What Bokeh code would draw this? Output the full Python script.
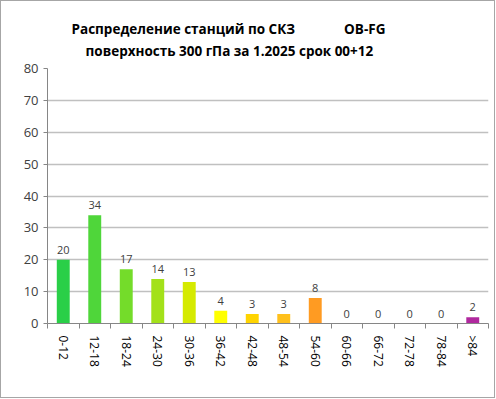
from bokeh.plotting import figure
from bokeh.models import ColumnDataSource, FixedTicker, Title, Range1d
from bokeh.core.properties import value
from bokeh.embed import file_html
from bokeh.resources import INLINE

categories = ["0-12", "12-18", "18-24", "24-30", "30-36", "36-42", "42-48",
              "48-54", "54-60", "60-66", "66-72", "72-78", "78-84", ">84"]
counts = [20, 34, 17, 14, 13, 4, 3, 3, 8, 0, 0, 0, 0, 2]
colors = ["#2acf48", "#4fd63a", "#74dc2a", "#a3e11a", "#d5ea00", "#ffff00", "#ffd400",
          "#ffc01c", "#ff9b22", "#ff7f20", "#ff5a20", "#e0302a", "#c02a80", "#b0289e"]
y_ticks = [0, 10, 20, 30, 40, 50, 60, 70, 80]

FONT = "Open Sans"
n = len(categories)
centers = [i + 0.5 for i in range(n)]
bounds = [float(i) for i in range(n + 1)]

src = ColumnDataSource(dict(x=centers, top=counts, color=colors,
                            label=[str(c) for c in counts]))

p = figure(width=495, height=398, output_backend="svg", toolbar_location=None,
           x_range=Range1d(0, n), y_range=Range1d(0, 80),
           min_border_left=46, min_border_right=8, min_border_top=67, min_border_bottom=76)
p.styles = {"border": "1px solid #a6a6a6"}
p.outline_line_color = None
p.background_fill_color = "white"
p.border_fill_color = "white"

p.vbar(x="x", top="top", width=0.41, bottom=0, color="color", source=src, line_color=None)
p.text(x="x", y="top", text="label", source=src, text_align="center",
       text_baseline="bottom", y_offset=-6, text_font_size="11px",
       text_color="#404040", text_font=value(FONT))

# axes
p.xaxis.ticker = FixedTicker(ticks=centers, minor_ticks=bounds)
p.xaxis.major_label_overrides = {c: lab for c, lab in zip(centers, categories)}
p.xaxis.major_label_orientation = "vertical"
p.xaxis.major_tick_line_color = None
p.xaxis.minor_tick_line_color = "#868686"
p.xaxis.minor_tick_out = 5
p.xaxis.minor_tick_in = 0
p.xaxis.axis_line_color = "#868686"
p.xaxis.major_label_text_font = FONT
p.xaxis.major_label_text_font_size = "12px"
p.xaxis.major_label_text_color = "#000000"
p.xaxis.major_label_standoff = 6

p.yaxis.ticker = FixedTicker(ticks=y_ticks)
p.yaxis.minor_tick_line_color = None
p.yaxis.major_tick_out = 4
p.yaxis.major_tick_in = 0
p.yaxis.major_tick_line_color = "#868686"
p.yaxis.axis_line_color = "#868686"
p.yaxis.major_label_text_font = FONT
p.yaxis.major_label_text_font_size = "13px"
p.yaxis.major_label_text_color = "#404040"
p.yaxis.major_label_standoff = 5

p.xgrid.grid_line_color = None
p.ygrid.grid_line_color = "#c0c0c0"
p.ygrid.grid_line_width = 1.5

line1 = "Распределение станций по СКЗ" + "\u00a0" * 14 + "OB-FG"
line2 = "\u00a0" * 4 + "поверхность  300 гПа за 1.2025 срок 00+12"
p.add_layout(Title(text=line1 + "\n" + line2, align="left", offset=24,
                   text_font=FONT, text_font_size="13.5px", text_font_style="bold",
                   text_color="#000000", text_line_height=1.26, standoff=16), "above")

open("out.html", "w").write(file_html(p, INLINE))
